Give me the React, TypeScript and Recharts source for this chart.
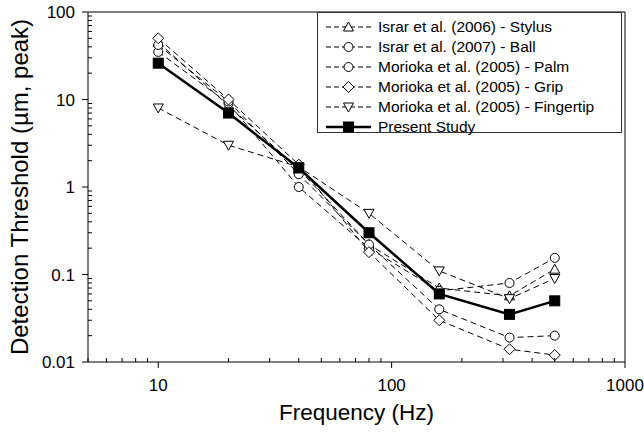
import React from 'react';
import { LineChart, Line, XAxis, YAxis, ReferenceLine } from 'recharts';

const freqs = [10, 20, 40, 80, 160, 320, 500];
const stylus = [45, 8.5, 1.6, 0.22, 0.07, 0.057, 0.115];
const ball = [35, 9, 1.0, 0.2, 0.065, 0.08, 0.155];
const palm = [42, 9.5, 1.4, 0.22, 0.04, 0.019, 0.02];
const grip = [50, 10, 1.8, 0.18, 0.03, 0.014, 0.012];
const fingertip = [8, 3, 1.7, 0.5, 0.11, 0.053, 0.09];
const present = [26, 7, 1.65, 0.3, 0.06, 0.035, 0.05];

const xMajor = [10, 100, 1000];
const yMajor = [0.01, 0.1, 1, 10, 100];
const yLabels = ['0.01', '0.1', '1', '10', '100'];

const series = [
  { key: 'stylus', name: 'Israr et al. (2006) - Stylus', shape: 'up', values: stylus },
  { key: 'ball', name: 'Israr et al. (2007) - Ball', shape: 'circle', values: ball },
  { key: 'palm', name: 'Morioka et al. (2005) - Palm', shape: 'circle', values: palm },
  { key: 'grip', name: 'Morioka et al. (2005) - Grip', shape: 'diamond', values: grip },
  { key: 'fingertip', name: 'Morioka et al. (2005) - Fingertip', shape: 'down', values: fingertip },
  { key: 'present', name: 'Present Study', shape: 'square', values: present },
];

const data = freqs.map((f, i) => {
  const row: Record<string, number> = { f };
  series.forEach((s) => { row[s.key] = s.values[i]; });
  return row;
});

// minor ticks for log axes (2..9 of each decade)
const withMinors = (majors: number[]) => {
  const out: number[] = [];
  majors.forEach((m, i) => {
    out.push(m);
    if (i < majors.length - 1) for (let k = 2; k <= 9; k++) out.push(m * k);
  });
  return out;
};
const xTicks = [5, 6, 7, 8, 9, ...withMinors(xMajor)];
const yTicks = withMinors(yMajor);

const isMajor = (v: number, majors: number[]) => majors.some((m) => Math.abs(m - v) / m < 1e-6);

const FONT = '"Liberation Sans", Arial, sans-serif';

function Marker({ shape, cx, cy }: { shape: string; cx: number; cy: number }) {
  const st = { stroke: '#000', strokeWidth: 1, fill: '#fff' };
  if (shape === 'circle') return <circle cx={cx} cy={cy} r={4.5} {...st} />;
  if (shape === 'up') return <polygon points={`${cx},${cy - 5} ${cx - 5},${cy + 4} ${cx + 5},${cy + 4}`} {...st} />;
  if (shape === 'down') return <polygon points={`${cx},${cy + 5} ${cx - 5},${cy - 4} ${cx + 5},${cy - 4}`} {...st} />;
  if (shape === 'diamond') return <polygon points={`${cx},${cy - 5.5} ${cx + 5.5},${cy} ${cx},${cy + 5.5} ${cx - 5.5},${cy}`} {...st} />;
  return <rect x={cx - 5} y={cy - 5} width={10} height={10} fill="#000" stroke="#000" />;
}

const makeDot = (shape: string) => (p: any) => (
  <Marker key={`${shape}-${p.index}`} shape={shape} cx={p.cx} cy={p.cy} />
);

const XTick = (p: any) => {
  const v = p.payload.value;
  if (isMajor(v, xMajor)) {
    return (
      <g>
        <line x1={p.x} y1={p.y} x2={p.x} y2={p.y + 6} stroke="#000" />
        <text x={p.x} y={p.y + 29} textAnchor="middle" fontSize={17} fontFamily={FONT} fill="#000">{v}</text>
      </g>
    );
  }
  return <line x1={p.x} y1={p.y} x2={p.x} y2={p.y - 4} stroke="#000" />;
};

const YTick = (p: any) => {
  const v = p.payload.value;
  const idx = yMajor.findIndex((m) => Math.abs(m - v) / m < 1e-6);
  if (idx >= 0) {
    return (
      <g>
        <line x1={p.x} y1={p.y} x2={p.x - 6} y2={p.y} stroke="#000" />
        <text x={p.x - 13} y={p.y + 6} textAnchor="end" fontSize={17} fontFamily={FONT} fill="#000">{yLabels[idx]}</text>
      </g>
    );
  }
  return <line x1={p.x} y1={p.y} x2={p.x + 4} y2={p.y} stroke="#000" />;
};

function LegendBox() {
  return (
    <div
      style={{
        position: 'absolute', left: 317, top: 12, width: 305, height: 121,
        border: '1px solid #333', boxSizing: 'border-box', background: '#fff',
        paddingTop: 4, fontFamily: FONT, fontSize: 15.5,
      }}
    >
      {series.map((s) => {
        const solid = s.shape === 'square';
        return (
          <div key={s.key} style={{ height: 20, display: 'flex', alignItems: 'center' }}>
            <svg width={60} height={20} style={{ marginLeft: 7, flexShrink: 0 }}>
              <line x1={1} y1={10} x2={46} y2={10} stroke="#000"
                strokeWidth={solid ? 2.5 : 1} strokeDasharray={solid ? undefined : '5 3'} />
              <Marker shape={s.shape} cx={23.5} cy={10} />
            </svg>
            <span style={{ marginLeft: -7, whiteSpace: 'nowrap' }}>{s.name}</span>
          </div>
        );
      })}
    </div>
  );
}

export default function App() {
  return (
    <div style={{ position: 'absolute', left: 0, top: 0, width: 644, height: 432, background: '#fff' }}>
      <LineChart width={644} height={432} data={data} margin={{ top: 12, right: 19, left: 0, bottom: 0 }}>
        <XAxis dataKey="f" type="number" scale="log" domain={[5, 1000]} ticks={xTicks}
          allowDataOverflow interval={0} tickSize={0} tickMargin={0} tick={XTick} height={70}
          axisLine={{ stroke: '#000' }}
          label={{ value: 'Frequency (Hz)', position: 'insideBottom', offset: 12, fontSize: 22.5, fontFamily: FONT, fill: '#000' }} />
        <YAxis type="number" scale="log" domain={[0.01, 100]} ticks={yTicks} allowDataOverflow
          interval={0} tickSize={0} tickMargin={0} tick={YTick} width={88}
          axisLine={{ stroke: '#000' }}
          label={{ value: 'Detection Threshold (µm, peak)', angle: -90, position: 'insideLeft', offset: 19,
            style: { textAnchor: 'middle' }, fontSize: 24, fontFamily: FONT, fill: '#000' }} />
        <ReferenceLine y={100} stroke="#000" />
        <ReferenceLine x={1000} stroke="#000" />
        {series.map((s) => (
          <Line key={s.key} dataKey={s.key} name={s.name} type="linear" stroke="#000"
            strokeWidth={s.shape === 'square' ? 2.5 : 1}
            strokeDasharray={s.shape === 'square' ? undefined : '6 4'}
            dot={makeDot(s.shape)} activeDot={false} isAnimationActive={false} />
        ))}
      </LineChart>
      <LegendBox />
    </div>
  );
}
